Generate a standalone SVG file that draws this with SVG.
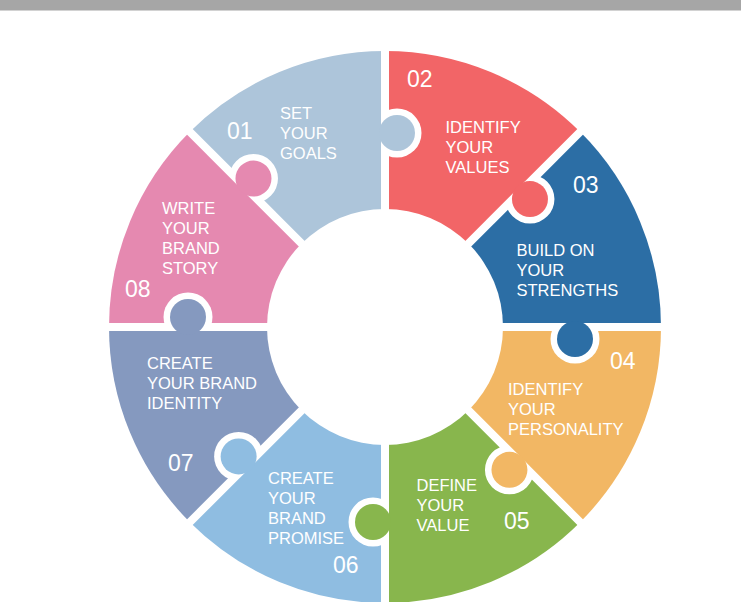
<svg xmlns="http://www.w3.org/2000/svg" xmlns:xlink="http://www.w3.org/1999/xlink" width="741" height="602" viewBox="0 0 741 602">
<style>
.lbl{font-family:"Liberation Sans",Arial,sans-serif;font-size:16.5px;fill:#ffffff}
.num{font-family:"Liberation Sans",Arial,sans-serif;font-size:23px;fill:#ffffff}
.gap{stroke:#ffffff;stroke-width:8;fill:none}
</style>
<defs>
<path id="sec" d="M0 0 L276 0 A276 276 0 0 1 195.16 195.16 Z"/>
<clipPath id="half"><rect x="0" y="0" width="300" height="60"/></clipPath>
</defs>
<rect x="0" y="0" width="741" height="10.5" fill="#a6a6a6"/>
<g id="node-01">
<use xlink:href="#sec" transform="translate(385 327) rotate(-135)" fill="#adc5da"/>
<text class="num" x="227" y="139">01</text>
<text class="lbl" x="280" y="119">SET</text>
<text class="lbl" x="280" y="139">YOUR</text>
<text class="lbl" x="280" y="159">GOALS</text>
</g>
<g id="node-02">
<use xlink:href="#sec" transform="translate(385 327) rotate(-90)" fill="#f26567"/>
<text class="num" x="407" y="87">02</text>
<text class="lbl" x="445.5" y="133">IDENTIFY</text>
<text class="lbl" x="445.5" y="153">YOUR</text>
<text class="lbl" x="445.5" y="173">VALUES</text>
</g>
<g id="node-03">
<use xlink:href="#sec" transform="translate(385 327) rotate(-45)" fill="#2c6ea5"/>
<text class="num" x="573" y="193">03</text>
<text class="lbl" x="516.5" y="256">BUILD ON</text>
<text class="lbl" x="516.5" y="276">YOUR</text>
<text class="lbl" x="516.5" y="296">STRENGTHS</text>
</g>
<g id="node-04">
<use xlink:href="#sec" transform="translate(385 327) rotate(0)" fill="#f2b764"/>
<text class="num" x="610" y="369">04</text>
<text class="lbl" x="508" y="395">IDENTIFY</text>
<text class="lbl" x="508" y="415">YOUR</text>
<text class="lbl" x="508" y="435">PERSONALITY</text>
</g>
<g id="node-05">
<use xlink:href="#sec" transform="translate(385 327) rotate(45)" fill="#88b64d"/>
<text class="num" x="504" y="529">05</text>
<text class="lbl" x="416.5" y="491">DEFINE</text>
<text class="lbl" x="416.5" y="511">YOUR</text>
<text class="lbl" x="416.5" y="531">VALUE</text>
</g>
<g id="node-06">
<use xlink:href="#sec" transform="translate(385 327) rotate(90)" fill="#8fbde1"/>
<text class="num" x="333" y="573">06</text>
<text class="lbl" x="268" y="484">CREATE</text>
<text class="lbl" x="268" y="504">YOUR</text>
<text class="lbl" x="268" y="524">BRAND</text>
<text class="lbl" x="268" y="544">PROMISE</text>
</g>
<g id="node-07">
<use xlink:href="#sec" transform="translate(385 327) rotate(135)" fill="#8599bf"/>
<text class="num" x="168" y="471">07</text>
<text class="lbl" x="147" y="369">CREATE</text>
<text class="lbl" x="147" y="389">YOUR BRAND</text>
<text class="lbl" x="147" y="409">IDENTITY</text>
</g>
<g id="node-08">
<use xlink:href="#sec" transform="translate(385 327) rotate(180)" fill="#e589b0"/>
<text class="num" x="125" y="297">08</text>
<text class="lbl" x="162" y="214">WRITE</text>
<text class="lbl" x="162" y="234">YOUR</text>
<text class="lbl" x="162" y="254">BRAND</text>
<text class="lbl" x="162" y="274">STORY</text>
</g>
<g id="connectors">
<g transform="translate(385 327)">
<line class="gap" x1="-300" y1="0" x2="300" y2="0"/>
<line class="gap" x1="0" y1="-300" x2="0" y2="300"/>
<line class="gap" x1="-212" y1="-212" x2="212" y2="212"/>
<line class="gap" x1="-212" y1="212" x2="212" y2="-212"/>
</g>
<g id="tab-01" transform="translate(385 327) rotate(-90)"><circle cx="194" cy="12" r="24.5" fill="#fff" clip-path="url(#half)"/><circle cx="194" cy="12" r="18" fill="#adc5da"/></g>
<g id="tab-02" transform="translate(385 327) rotate(-45)"><circle cx="193" cy="12" r="24.5" fill="#fff" clip-path="url(#half)"/><circle cx="193" cy="12" r="18" fill="#f26567"/></g>
<g id="tab-03" transform="translate(385 327) rotate(0)"><circle cx="190" cy="12" r="24.5" fill="#fff" clip-path="url(#half)"/><circle cx="190" cy="12" r="18" fill="#2c6ea5"/></g>
<g id="tab-04" transform="translate(385 327) rotate(45)"><circle cx="189" cy="13" r="24.5" fill="#fff" clip-path="url(#half)"/><circle cx="189" cy="13" r="18" fill="#f2b764"/></g>
<g id="tab-05" transform="translate(385 327) rotate(90)"><circle cx="195" cy="12" r="24.5" fill="#fff" clip-path="url(#half)"/><circle cx="195" cy="12" r="18" fill="#88b64d"/></g>
<g id="tab-06" transform="translate(385 327) rotate(135)"><circle cx="195" cy="12" r="24.5" fill="#fff" clip-path="url(#half)"/><circle cx="195" cy="12" r="18" fill="#8fbde1"/></g>
<g id="tab-07" transform="translate(385 327) rotate(180)"><circle cx="197" cy="10" r="24.5" fill="#fff" clip-path="url(#half)"/><circle cx="197" cy="10" r="18" fill="#8599bf"/></g>
<g id="tab-08" transform="translate(385 327) rotate(225)"><circle cx="198" cy="12" r="24.5" fill="#fff" clip-path="url(#half)"/><circle cx="198" cy="12" r="18" fill="#e589b0"/></g>
<circle cx="385" cy="327" r="118" fill="#ffffff"/>
</g>
</svg>
